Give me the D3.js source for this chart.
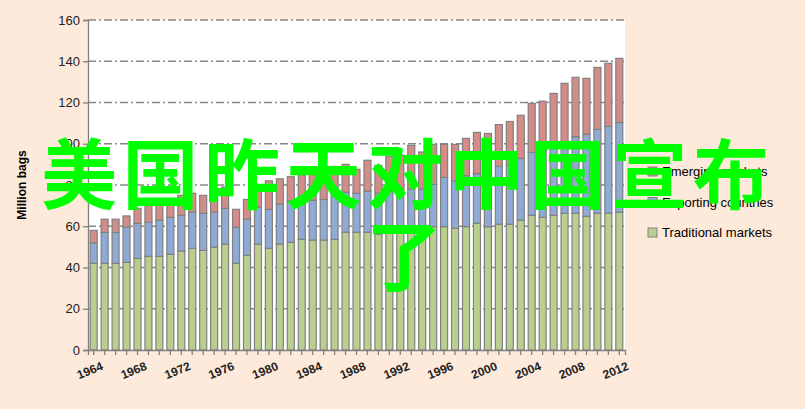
<!DOCTYPE html>
<html><head><meta charset="utf-8">
<script src="https://cdn.jsdelivr.net/npm/d3@7"></script>
<style>body{margin:0;background:#fdeadb;}svg{display:block;font-family:"Liberation Sans",Arial,sans-serif;}</style>
</head><body><div id="chart"></div>
<script>
// data (million bags)
var years = d3.range(1964, 2013);
var traditional = [42,42,42,42.5,44.4,45.4,45.4,46.4,48,49.3,48.3,49.8,51.3,42,45.9,51.3,49.3,51.3,52.2,53.7,53.3,53.3,53.7,57.1,57.1,
  57.1,56.1,58,58,58,58.2,59.8,59.8,59,59.8,61.4,59.8,61,61,62.9,65.3,64.3,65.3,66.3,66.3,64.8,66.3,66.3,66.8];
var exporting = [52,57,57,59.5,61.4,61.9,62.9,64.3,65.3,66.8,66.3,66.8,68.7,59.5,63.4,69.2,68.2,70.7,72.4,74,72.6,73,76.5,76.5,76,
  77,76,77,78,78,78,80.3,83.7,82,84.5,85.5,86.6,89,89.5,92.9,95.8,96.8,98.5,101,103.4,104.6,107,108.4,110.3];
var totals = [58,63.4,63.4,65,68.7,70,72,73,75,76,75,76,79,68.2,73,80,82,83,84,85,88,87,89,90,87.6,
  92,89.5,93.9,94.5,99.2,96,99.7,99.7,99.7,102.6,105.5,105,109.3,110.8,113.8,119.6,120.6,124.4,129.3,132.2,131.7,137,139,141.4];
var seriesNames = ["Emerging markets", "Exporting countries", "Traditional markets"];
var yTicks = [0,20,40,60,80,100,120,140,160];

var W = 805, H = 409;
var margin = {top: 20, right: 180, bottom: 59, left: 88};
var width = 625 - margin.left, height = 350 - margin.top;

var svg = d3.select("#chart").append("svg").attr("width", W).attr("height", H);
var g = svg.append("g").attr("transform", `translate(${margin.left},${margin.top})`);

var x = d3.scaleBand().domain(years).range([0, width]).paddingInner(0.36).paddingOuter(0.2);
var y = d3.scaleLinear().domain([0, 160]).range([height, 0]);

g.append("rect").attr("width", width).attr("height", height).attr("fill", "#fff");

// gridlines
g.selectAll(".grid").data(yTicks.slice(1)).enter().append("line")
  .attr("x1", 0).attr("x2", width).attr("y1", d => y(d)).attr("y2", d => y(d))
  .attr("stroke", "#888").attr("stroke-width", 1.3).attr("stroke-dasharray", "8,3,2,3");

// stacked bars
var segs = [];
years.forEach(function(yr, i) {
  segs.push({yr: yr, y0: 0, y1: traditional[i], c: "#bacf8e"});
  segs.push({yr: yr, y0: traditional[i], y1: exporting[i], c: "#8eaad5"});
  segs.push({yr: yr, y0: exporting[i], y1: totals[i], c: "#d48c88"});
});
g.selectAll(".seg").data(segs).enter().append("rect")
  .attr("x", d => x(d.yr)).attr("width", x.bandwidth())
  .attr("y", d => y(d.y1)).attr("height", d => y(d.y0) - y(d.y1))
  .attr("fill", d => d.c).attr("stroke", "#808080").attr("stroke-width", 1.2);

// axes
var yAxis = g.append("g").call(d3.axisLeft(y).tickValues(yTicks).tickSize(5));
yAxis.selectAll("text").attr("font-size", 13).attr("fill", "#222");
var xAxis = g.append("g").attr("transform", `translate(0,${height})`)
  .call(d3.axisBottom(x).tickFormat(d => (d - 1964) % 4 === 0 ? d : "").tickSize(5));
xAxis.selectAll("text").attr("font-size", 12).attr("font-weight", "bold").attr("fill", "#222")
  .attr("text-anchor", "end").attr("transform", "translate(4,4) rotate(-22)");
svg.selectAll(".domain, .tick line").attr("stroke", "#808080").attr("stroke-width", 1.3);

svg.append("text").attr("transform", "translate(26,185) rotate(-90)")
  .attr("text-anchor", "middle").attr("font-size", 12).attr("font-weight", "bold").text("Million bags");

// legend
var colors = ["#d48c88", "#8eaad5", "#bacf8e"];
var lg = svg.append("g").attr("transform", "translate(648,167)");
seriesNames.forEach(function(n, i) {
  lg.append("rect").attr("x", 0).attr("y", i * 30.5).attr("width", 9).attr("height", 9)
    .attr("fill", colors[i]).attr("stroke", "#808080");
  lg.append("text").attr("x", 14).attr("y", i * 30.5 + 9).attr("font-size", 13).text(n);
});

// overlay caption
svg.append("text").attr("x", 405).attr("y", 203).attr("text-anchor", "middle")
  .attr("font-family", "'Noto Sans CJK SC'").attr("font-size", 76).attr("font-weight", "bold")
  .attr("fill", "#00ff00").attr("textLength", 728).text("美国昨天对中国宣布了".slice(0, 9));
svg.append("text").attr("x", 404).attr("y", 285).attr("text-anchor", "middle")
  .attr("font-family", "'Noto Sans CJK SC'").attr("font-size", 76).attr("font-weight", "bold")
  .attr("fill", "#00ff00").text("了");
</script></body></html>
